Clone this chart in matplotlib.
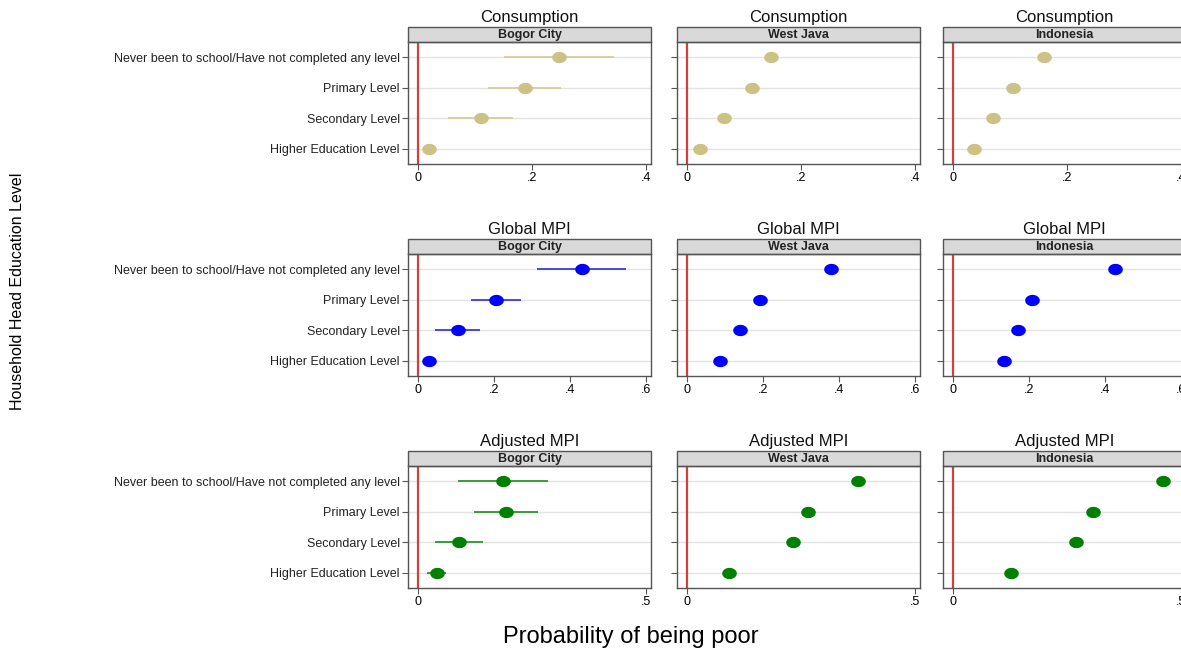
import numpy as np
import matplotlib
matplotlib.use("Agg")
import matplotlib.pyplot as plt
from matplotlib.path import Path
from matplotlib.patches import Rectangle

plt.rcParams['font.family'] = ['Liberation Sans', 'DejaVu Sans']

# -----------------------------
# DATA
# -----------------------------
categories = [
    "Never been to school/Have not completed any level",
    "Primary Level",
    "Secondary Level",
    "Higher Education Level",
]
regions = ["Bogor City", "West Java", "Indonesia"]
measures = ["Consumption", "Global MPI", "Adjusted MPI"]

cons_bogor = [0.248, 0.187, 0.111, 0.020]
cons_bogor_lo = [0.151, 0.123, 0.053, 0.008]
cons_bogor_hi = [0.343, 0.250, 0.167, 0.032]
cons_westjava = [0.147, 0.114, 0.064, 0.023]
cons_westjava_lo = [0.141, 0.108, 0.059, 0.018]
cons_westjava_hi = [0.153, 0.120, 0.069, 0.028]
cons_indonesia = [0.160, 0.106, 0.071, 0.037]
cons_indonesia_lo = [0.157, 0.103, 0.069, 0.035]
cons_indonesia_hi = [0.163, 0.109, 0.073, 0.039]

gmpi_bogor = [0.431, 0.204, 0.104, 0.029]
gmpi_bogor_lo = [0.314, 0.139, 0.045, 0.012]
gmpi_bogor_hi = [0.547, 0.271, 0.163, 0.046]
gmpi_westjava = [0.379, 0.193, 0.140, 0.087]
gmpi_westjava_lo = [0.373, 0.187, 0.134, 0.081]
gmpi_westjava_hi = [0.385, 0.199, 0.146, 0.093]
gmpi_indonesia = [0.426, 0.207, 0.170, 0.133]
gmpi_indonesia_lo = [0.423, 0.204, 0.167, 0.130]
gmpi_indonesia_hi = [0.429, 0.210, 0.173, 0.136]

ampi_bogor = [0.187, 0.193, 0.090, 0.041]
ampi_bogor_lo = [0.088, 0.123, 0.037, 0.020]
ampi_bogor_hi = [0.286, 0.264, 0.142, 0.061]
ampi_westjava = [0.376, 0.266, 0.233, 0.091]
ampi_westjava_lo = [0.364, 0.260, 0.227, 0.085]
ampi_westjava_hi = [0.388, 0.272, 0.239, 0.097]
ampi_indonesia = [0.461, 0.308, 0.269, 0.127]
ampi_indonesia_lo = [0.458, 0.305, 0.266, 0.124]
ampi_indonesia_hi = [0.464, 0.311, 0.272, 0.130]

xticks_by_measure = [[0, 0.2, 0.4], [0, 0.2, 0.4, 0.6], [0, 0.5]]
xticklabels_by_measure = [["0", ".2", ".4"], ["0", ".2", ".4", ".6"], ["0", ".5"]]
colors = ["#cdc286", "#0000ff", "#008000"]
ci_colors = ["#d6cd98", "#3a3ae6", "#2a962a"]

panels = [
    [(cons_bogor, cons_bogor_lo, cons_bogor_hi),
     (cons_westjava, cons_westjava_lo, cons_westjava_hi),
     (cons_indonesia, cons_indonesia_lo, cons_indonesia_hi)],
    [(gmpi_bogor, gmpi_bogor_lo, gmpi_bogor_hi),
     (gmpi_westjava, gmpi_westjava_lo, gmpi_westjava_hi),
     (gmpi_indonesia, gmpi_indonesia_lo, gmpi_indonesia_hi)],
    [(ampi_bogor, ampi_bogor_lo, ampi_bogor_hi),
     (ampi_westjava, ampi_westjava_lo, ampi_westjava_hi),
     (ampi_indonesia, ampi_indonesia_lo, ampi_indonesia_hi)],
]

# =====================================================
# LAYOUT (pixel geometry of the original graph)
# =====================================================
W, H = 1181, 650
col_left = [408, 677, 943]
col_width = 243
row_top = [42, 254, 466]
row_height = 122
header_h = 15

# ellipse marker, a bit wider than tall
t = np.linspace(0, 2 * np.pi, 60)
ellipse = Path(np.column_stack([np.cos(t), 0.75 * np.sin(t)]), closed=True)

fig = plt.figure(figsize=(W / 100, H / 100), dpi=100)
fig.patch.set_facecolor("white")

ypos = np.arange(1, len(categories) + 1)

for r, measure in enumerate(measures):
    xmax = xticks_by_measure[r][-1]
    for c, region in enumerate(regions):
        rect = [col_left[c] / W, 1 - (row_top[r] + row_height) / H,
                col_width / W, row_height / H]
        ax = fig.add_axes(rect)
        est, lo, hi = panels[r][c]

        for y in ypos:
            ax.axhline(y, color="#e3e3e3", lw=1, zorder=0)
        ax.axvline(0, color="#d2403c", lw=1.6, zorder=1)

        ax.hlines(ypos, lo, hi, color=ci_colors[r], lw=1.3, zorder=2)
        ax.plot(est, ypos, linestyle="none", marker=ellipse,
                markersize=9.5, color=colors[r], zorder=3)

        ax.set_xlim(-0.044 * xmax, 1.022 * xmax)
        ax.set_ylim(len(categories) + 0.5, 0.5)
        ax.set_xticks(xticks_by_measure[r])
        ax.set_xticklabels(xticklabels_by_measure[r], fontsize=9)
        ax.set_yticks(ypos)
        if c == 0:
            ax.set_yticklabels(categories, fontsize=9, color="#222222")
        else:
            ax.set_yticklabels([])
        ax.tick_params(axis="both", length=4, width=0.8, color="#555555", pad=2)

        for s in ax.spines.values():
            s.set_color("#555555")
            s.set_linewidth(1)

        # strip header
        hf = header_h / row_height
        ax.add_patch(Rectangle((0, 1), 1, hf, transform=ax.transAxes,
                               facecolor="#d9d9d9", edgecolor="#555555",
                               lw=1, clip_on=False))
        ax.text(0.5, 1 + hf / 2 - 0.006, region, transform=ax.transAxes,
                ha="center", va="center", fontsize=9, fontweight="bold",
                color="#222222")
        ax.text(0.5, 1 + hf + 9.5 / row_height, measure, transform=ax.transAxes,
                ha="center", va="center", fontsize=12, color="#111111")

fig.text(18 / W, 1 - 291 / H, "Household Head Education Level",
         rotation=90, ha="center", va="center", fontsize=11.5)
fig.text(631 / W, 1 - 637 / H, "Probability of being poor",
         ha="center", va="center", fontsize=17)

fig.savefig("out.png", dpi=100)
plt.close(fig)
